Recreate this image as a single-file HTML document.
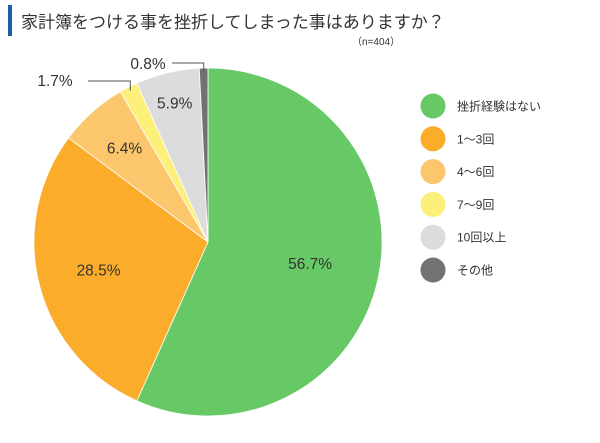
<!DOCTYPE html>
<html><head><meta charset="utf-8"><style>
body{margin:0;background:#fff;font-family:"Liberation Sans","Noto Sans CJK JP",sans-serif;}
svg text{font-family:"Liberation Sans","Noto Sans CJK JP",sans-serif;}
</style></head><body>
<svg width="600" height="438" xmlns="http://www.w3.org/2000/svg">
<rect width="600" height="438" fill="#fff"/>
<rect x="8" y="5" width="4" height="31" fill="#1f5fa0"/>
<text x="21" y="28" font-size="17" fill="#333">家計簿をつける事を挫折してしまった事はありますか？</text>
<text x="352" y="45" font-size="10" fill="#333">（n=404）</text>
<g id="slices"></g>
<g id="labels"></g>
<g id="legend"></g>
</svg>
<script>
const categories=["挫折経験はない","1～3回","4～6回","7～9回","10回以上","その他"];
const values=[56.7,28.5,6.4,1.7,5.9,0.8];
const colors=["#66c966","#fbac2a","#fcc66c","#fcf07a","#dcdcdc","#727272"];
const NS="http://www.w3.org/2000/svg";
const cx=208,cy=242,r=174;
const total=values.reduce((a,b)=>a+b,0);
const sg=document.getElementById('slices');
function pt(a,rr){return [cx+rr*Math.sin(a),cy-rr*Math.cos(a)];}
let acc=0;const mids=[];
values.forEach((v,i)=>{
  const a0=acc/total*2*Math.PI;acc+=v;const a1=acc/total*2*Math.PI;
  mids.push((a0+a1)/2);
  const p0=pt(a0,r),p1=pt(a1,r);
  const p=document.createElementNS(NS,'path');
  p.setAttribute('d',`M${cx},${cy}L${p0[0]},${p0[1]}A${r},${r} 0 ${a1-a0>Math.PI?1:0} 1 ${p1[0]},${p1[1]}Z`);
  p.setAttribute('fill',colors[i]);p.setAttribute('stroke','#fff');p.setAttribute('stroke-width','0.8');
  
  
  sg.appendChild(p);
});
const lg=document.getElementById('labels');
function txt(x,y,s,name){const t=document.createElementNS(NS,'text');t.setAttribute('x',x);t.setAttribute('y',y);t.setAttribute('font-size','15.5');t.setAttribute('fill','#333');t.setAttribute('text-anchor','middle');t.textContent=s;


lg.appendChild(t);}
const inner=[0.6,0.65,0.72,0,0.82,0];
values.forEach((v,i)=>{
  if(inner[i]){const p=pt(mids[i],r*inner[i]);txt(p[0],p[1]+5,v.toFixed(1)+'%','value-label-'+i);}
});
function leader(d,name){const p=document.createElementNS(NS,'path');p.setAttribute('d',d);p.setAttribute('stroke','#555');p.setAttribute('fill','none');p.setAttribute('stroke-width','1');


lg.appendChild(p);}
const p3=pt(mids[3],r-4),p5=pt(mids[5],r-4);
leader(`M88,81H${p3[0].toFixed(1)}V${p3[1].toFixed(1)}`,'leader-line-3');
txt(55,86,values[3].toFixed(1)+'%','value-label-3');
leader(`M172,63H${p5[0].toFixed(1)}V${p5[1].toFixed(1)}`,'leader-line-5');
txt(148,69,values[5].toFixed(1)+'%','value-label-5');
const lgd=document.getElementById('legend');
categories.forEach((c,i)=>{
  const y=106+i*32.8;
  const g=document.createElementNS(NS,'g');
  
  
  const ci=document.createElementNS(NS,'circle');ci.setAttribute('cx',433);ci.setAttribute('cy',y);ci.setAttribute('r',12.5);ci.setAttribute('fill',colors[i]);
  
  
  const t=document.createElementNS(NS,'text');t.setAttribute('x',457);t.setAttribute('y',y+4.5);t.setAttribute('font-size','12');t.setAttribute('fill','#333');t.textContent=c;
  
  
  g.appendChild(ci);g.appendChild(t);lgd.appendChild(g);
});
</script>
</body></html>
